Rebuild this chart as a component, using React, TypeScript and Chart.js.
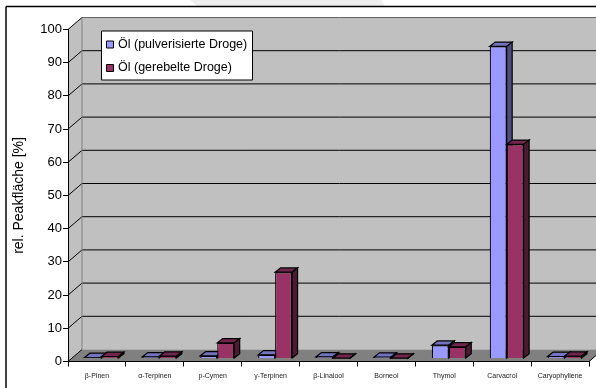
import React, { useEffect, useRef } from "react";
import { Chart, registerables } from "chart.js";

Chart.register(...registerables);

const categories = ["β-Pinen", "α-Terpinen", "p-Cymen", "γ-Terpinen", "β-Linalool", "Borneol", "Thymol", "Carvacrol", "Caryophyllene"];
const pulverized = [0.3, 0.5, 0.8, 1.1, 0.5, 0.4, 4.0, 94, 0.6];
const rubbed = [0.6, 0.7, 4.7, 26, 0.1, 0.1, 3.5, 64.5, 0.7];
const seriesNames = ["Öl (pulverisierte Droge)", "Öl (gerebelte Droge)"];
const axisTitle = "rel. Peakfläche [%]";

const FONT = '"Liberation Sans", Arial, sans-serif';
const WALL_DX = 14;
const WALL_DY = 12;
const BAR_SHIFT_X = 4.5;
const BAR_SHIFT_Y = -3;
const BAR_DX = 5.5;
const BAR_DY = 4.3;

const fronts = ["#9999FF", "#993366"];
const tops = ["#7373BF", "#73264D"];
const sides = ["#4D4D80", "#4D1A33"];

function poly(ctx: CanvasRenderingContext2D, pts: number[][], fill: string, stroke?: string, lw = 1) {
  ctx.beginPath();
  pts.forEach(([x, y], i) => (i ? ctx.lineTo(x, y) : ctx.moveTo(x, y)));
  ctx.closePath();
  ctx.fillStyle = fill;
  ctx.fill();
  if (stroke) {
    ctx.strokeStyle = stroke;
    ctx.lineWidth = lw;
    ctx.stroke();
  }
}

function line(ctx: CanvasRenderingContext2D, x1: number, y1: number, x2: number, y2: number, color = "#000", lw = 1) {
  ctx.beginPath();
  ctx.moveTo(x1, y1);
  ctx.lineTo(x2, y2);
  ctx.strokeStyle = color;
  ctx.lineWidth = lw;
  ctx.stroke();
}

// Frame, back wall, side wall, floor and the gridlines that wrap around them.
const roomPlugin = {
  id: "room",
  beforeDraw(chart: any) {
    const { ctx, chartArea: a, scales } = chart;
    const w = chart.width;
    const h = chart.height;
    ctx.save();
    poly(ctx, [[190, 0], [381, 0], [385, 6], [197, 6]], "#EEEEEE");
    line(ctx, 6, 6.5, w, 6.5, "#000", 1.5);
    line(ctx, 6, 6.5, 6, h, "#000", 1.5);

    const backL = a.left + WALL_DX;
    const backR = a.right + WALL_DX;
    const backT = a.top - WALL_DY;
    const backB = a.bottom - WALL_DY;
    poly(ctx, [[backL, backT], [backR, backT], [backR, backB], [backL, backB]], "#C0C0C0");
    poly(ctx, [[a.left, a.top], [backL, backT], [backL, backB], [a.left, a.bottom]], "#C0C0C0");
    poly(ctx, [[a.left, a.bottom], [a.right, a.bottom], [backR, backB], [backL, backB]], "#808080");

    scales.y.ticks.forEach((t: any) => {
      const y = scales.y.getPixelForValue(t.value);
      if (t.value > 0) {
        line(ctx, a.left, y, backL, y - WALL_DY, "#000");
        line(ctx, backL, y - WALL_DY, backR, y - WALL_DY, t.value === 100 ? "#666" : "#000");
      } else {
        line(ctx, a.left, y, backL, y - WALL_DY, "#000");
      }
    });
    line(ctx, backL, backT, backL, backB, "#808080");
    line(ctx, a.right, a.bottom, backR, backB, "#000");
    ctx.restore();
  },
};

// Every column is drawn front-to-back with its top and side faces, blue before red.
const columnsPlugin = {
  id: "columns",
  beforeDatasetsDraw(chart: any) {
    const { ctx } = chart;
    ctx.save();
    ctx.translate(BAR_SHIFT_X, BAR_SHIFT_Y);
    for (let c = 0; c < categories.length; c++) {
      [0, 1].forEach((d) => {
        const el = chart.getDatasetMeta(d).data[c];
        const { x, y, base, width } = el.getProps(["x", "y", "base", "width"], true);
        const l = x - width / 2;
        const r = x + width / 2;
        poly(ctx, [[l, y], [l + BAR_DX, y - BAR_DY], [r + BAR_DX, y - BAR_DY], [r, y]], tops[d], "#000", 1.2);
        poly(ctx, [[r, y], [r + BAR_DX, y - BAR_DY], [r + BAR_DX, base - BAR_DY], [r, base]], sides[d], "#000", 1.2);
        el.draw(ctx);
      });
    }
    ctx.restore();
  },
  beforeDatasetDraw() {
    return false;
  },
};

// Legend box that sits on the back wall.
const legendPlugin = {
  id: "wallLegend",
  afterDraw(chart: any) {
    const { ctx } = chart;
    ctx.save();
    poly(ctx, [[101.5, 31], [252.5, 31], [252.5, 80], [101.5, 80]], "#FFFFFF", "#000");
    const rows = [44.5, 68];
    chart.data.datasets.forEach((ds: any, i: number) => {
      const y = rows[i];
      poly(ctx, [[106.5, y - 3.5], [113.5, y - 3.5], [113.5, y + 3.5], [106.5, y + 3.5]], fronts[i], "#000");
      ctx.fillStyle = "#000";
      ctx.font = `12.5px ${FONT}`;
      ctx.textBaseline = "middle";
      ctx.textAlign = "left";
      ctx.fillText(ds.label, 118, y);
    });
    ctx.restore();
  },
};

export default function App() {
  const ref = useRef<HTMLCanvasElement | null>(null);

  useEffect(() => {
    const chart = new Chart(ref.current as HTMLCanvasElement, {
      type: "bar",
      data: {
        labels: categories,
        datasets: [
          { label: seriesNames[0], data: pulverized, backgroundColor: fronts[0], borderColor: "#000", borderWidth: 1.2 },
          { label: seriesNames[1], data: rubbed, backgroundColor: fronts[1], borderColor: "#000", borderWidth: 1.2 },
        ],
      },
      options: {
        animation: false,
        responsive: false,
        events: [],
        layout: { padding: { top: 29.5, right: 7, left: 0, bottom: 0 } },
        datasets: { bar: { categoryPercentage: 0.586, barPercentage: 1 } },
        plugins: { legend: { display: false }, tooltip: { enabled: false } },
        scales: {
          x: {
            grid: { drawOnChartArea: false, drawTicks: true, tickLength: 5, color: "#000", offset: true },
            border: { display: true, color: "#000", width: 1 },
            ticks: { autoSkip: false, maxRotation: 0, padding: 5, color: "#222", font: { family: FONT, size: 7 } },
            afterFit(s: any) {
              s.height = 26.5;
            },
          },
          y: {
            min: 0,
            max: 100,
            grid: { drawOnChartArea: false, drawTicks: true, tickLength: 5, color: "#000" },
            border: { display: true, color: "#000", width: 1 },
            ticks: { stepSize: 10, padding: 1, color: "#000", font: { family: FONT, size: 13 } },
            title: { display: true, text: axisTitle, color: "#000", padding: { top: 10.5, bottom: 0 }, font: { family: FONT, size: 14 } },
            afterFit(s: any) {
              s.width = 68;
            },
          },
        },
      },
      plugins: [roomPlugin, columnsPlugin, legendPlugin],
    } as any);
    return () => chart.destroy();
  }, []);

  return (
    <div style={{ position: "absolute", left: 0, top: 0, width: 596, height: 388, background: "#fff" }}>
      <canvas ref={ref} width={596} height={388} style={{ display: "block" }} />
    </div>
  );
}
